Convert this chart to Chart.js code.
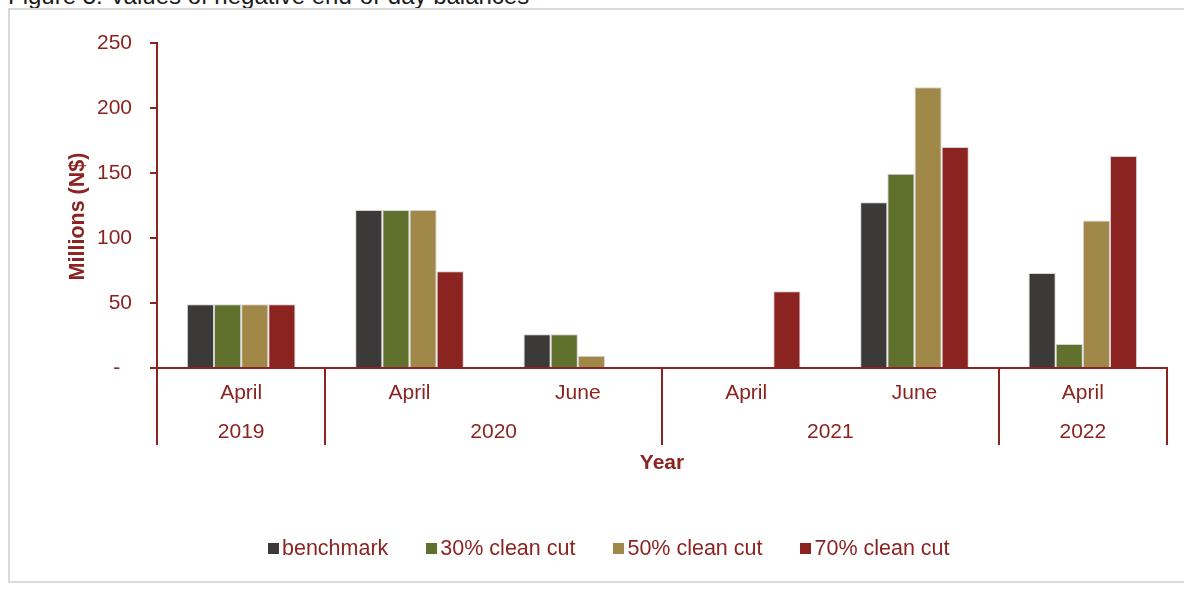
<!DOCTYPE html>
<html>
<head>
<meta charset="utf-8">
<script src="https://cdn.jsdelivr.net/npm/chart.js@4.4.1/dist/chart.umd.min.js"></script>
<style>
  html, body { margin: 0; padding: 0; background: #fff; }
  body {
    width: 1184px; height: 599px; position: relative; overflow: hidden;
    font-family: "Liberation Sans", Arial, sans-serif;
  }
  .fig-title {
    position: absolute; left: 8px; top: -18px; line-height: 28px;
    font-size: 24px; color: #1a1a1a; white-space: nowrap;
  }
  .frame {
    position: absolute; left: 8px; top: 8px; width: 1200px; height: 571px;
    border: 2px solid #d9d9d9;
  }
  #chart { position: absolute; left: 0; top: 0; }
  .legend {
    position: absolute; left: 268px; top: 537px; display: flex;
    align-items: center; color: #8b2321; font-size: 21.5px; line-height: 22px;
  }
  .legend .item { display: flex; align-items: center; margin-right: 38px; }
  .legend .swatch { width: 11px; height: 11px; margin-right: 3px; }
</style>
</head>
<body>
<div class="fig-title">Figure 5: Values of negative end-of-day balances</div>
<div class="frame"></div>
<canvas id="chart" width="1184" height="599"></canvas>
<div class="legend" id="legend"></div>

<script>
  const periods = ["April", "April", "June", "April", "June", "April"];
  const years = ["2019", "2020", "2020", "2021", "2021", "2022"];
  const seriesNames = ["benchmark", "30% clean cut", "50% clean cut", "70% clean cut"];

  // millions of N$
  const benchmark = [49, 121.5, 26, null, 127.5, 73];
  const cut30 = [49, 121.5, 26, null, 149.5, 18.5];
  const cut50 = [49, 121.5, 9.5, null, 216, 113.5];
  const cut70 = [49, 74.5, null, 59, 170, 163];

  const yMin = 0;
  const yMax = 250;
  const yStep = 50;

  const RED = "#8b2321";
  const seriesColors = ["#3b3a38", "#5f712d", "#a08948", "#8b2321"];
  const FONT = "\"Liberation Sans\", Arial, sans-serif";

  Chart.defaults.font.family = FONT;
  Chart.defaults.color = RED;

  // year row under the month labels, group dividers and the value-axis caption
  const axisExtras = {
    id: "axisExtras",
    afterDraw(chart) {
      const x = chart.scales.x;
      const { ctx, chartArea } = chart;
      const step = x.width / periods.length;
      const bounds = [0];
      for (let i = 1; i <= years.length; i++) {
        if (i === years.length || years[i] !== years[i - 1]) bounds.push(i);
      }

      ctx.save();
      ctx.strokeStyle = RED;
      ctx.lineWidth = 2;
      bounds.forEach((b) => {
        const px = Math.round(x.left + b * step);
        ctx.beginPath();
        ctx.moveTo(px, chartArea.bottom);
        ctx.lineTo(px, chartArea.bottom + 77);
        ctx.stroke();
      });

      ctx.fillStyle = RED;
      ctx.font = "21px " + FONT;
      ctx.textAlign = "center";
      ctx.textBaseline = "middle";
      for (let k = 0; k < bounds.length - 1; k++) {
        const left = x.left + bounds[k] * step;
        const right = x.left + bounds[k + 1] * step;
        ctx.fillText(years[bounds[k]], (left + right) / 2, chartArea.bottom + 64);
      }

      // sits a little below the middle of the axis
      ctx.translate(78, (chartArea.top + chartArea.bottom) / 2 + 11);
      ctx.rotate(-Math.PI / 2);
      ctx.font = "bold 21.5px " + FONT;
      ctx.fillText("Millions (N$)", 0, 0);
      ctx.restore();
    },
  };

  const seriesData = [benchmark, cut30, cut50, cut70];

  new Chart(document.getElementById("chart"), {
    type: "bar",
    data: {
      labels: periods,
      datasets: seriesNames.map((name, i) => ({
        label: name,
        data: seriesData[i],
        backgroundColor: seriesColors[i],
        borderColor: "#d4d4d4",
        borderWidth: 1,
        categoryPercentage: 0.645,
        barPercentage: 1,
      })),
    },
    options: {
      responsive: false,
      animation: false,
      layout: { padding: { left: 0, top: 43, right: 17, bottom: 99 } },
      plugins: {
        legend: { display: false },
        tooltip: { enabled: false },
      },
      scales: {
        x: {
          grid: { display: false, drawTicks: false },
          border: { color: RED, width: 2 },
          ticks: {
            color: RED,
            font: { size: 21 },
            padding: 13,
            maxRotation: 0,
            autoSkip: false,
          },
          title: {
            display: true,
            text: "Year",
            color: RED,
            font: { size: 21, weight: "bold" },
            padding: { top: 0, bottom: 24 },
          },
          afterFit(scale) { scale.height = 132; },
        },
        y: {
          min: yMin,
          max: yMax,
          grid: {
            drawOnChartArea: false,
            drawTicks: true,
            tickLength: 7,
            color: RED,
            lineWidth: 2,
          },
          border: { color: RED, width: 2 },
          ticks: {
            stepSize: yStep,
            color: RED,
            font: { size: 21 },
            padding: 18,
            callback: (v) => (v === 0 ? "-  " : v),
          },
          afterFit(scale) { scale.width = 157; },
        },
      },
    },
    plugins: [axisExtras],
  });

  // legend row
  const legend = document.getElementById("legend");
  seriesNames.forEach((name, i) => {
    const item = document.createElement("span");
    item.className = "item";
    const swatch = document.createElement("span");
    swatch.className = "swatch";
    swatch.style.background = seriesColors[i];
    item.appendChild(swatch);
    item.appendChild(document.createTextNode(name));
    legend.appendChild(item);
  });
</script>
</body>
</html>
